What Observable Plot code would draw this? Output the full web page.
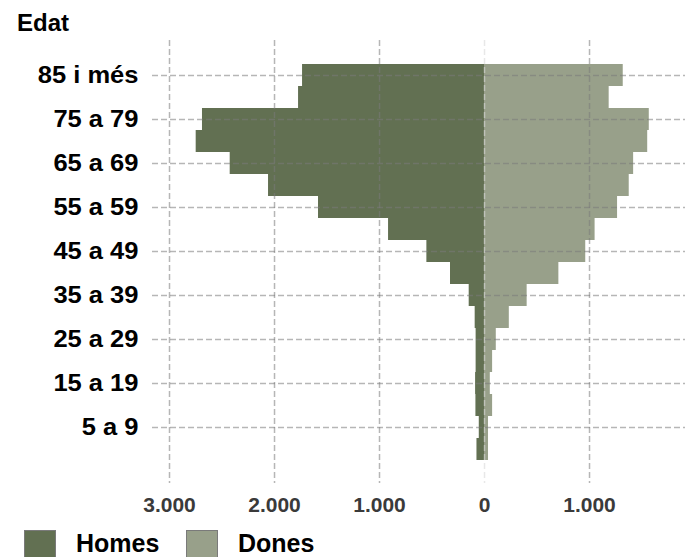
<!DOCTYPE html>
<html>
<head>
<meta charset="utf-8">
<script src="https://cdn.jsdelivr.net/npm/d3@7"></script>
<script src="https://cdn.jsdelivr.net/npm/@observablehq/plot@0.6"></script>
<style>
  body { margin: 0; background: #fff; font-family: "Liberation Sans", Arial, sans-serif; }
  #wrap { position: relative; width: 685px; height: 557px; overflow: hidden; }
  #title { position: absolute; left: 17px; top: 11px; font-size: 24px; line-height: 24px; font-weight: bold; color: #000; }
  #chart { position: absolute; left: 0; top: 40px; }
  .sw { position: absolute; top: 530px; width: 32px; height: 34px; box-sizing: border-box; border: 1.5px solid #7a7a7a; }
  .lt { position: absolute; top: 531px; font-size: 25px; line-height: 25px; font-weight: bold; color: #000; }
</style>
</head>
<body>
<div id="wrap">
  <div id="title">Edat</div>
  <div id="chart"></div>
  <div class="sw" id="sw1" style="left:24px;"></div>
  <div class="lt" id="lt1" style="left:76px;"></div>
  <div class="sw" id="sw2" style="left:186px;"></div>
  <div class="lt" id="lt2" style="left:238px;"></div>
</div>
<script>
// Age groups (bottom to top)
const ages = ["0 a 4","5 a 9","10 a 14","15 a 19","20 a 24","25 a 29","30 a 34","35 a 39","40 a 44",
  "45 a 49","50 a 54","55 a 59","60 a 64","65 a 69","70 a 74","75 a 79","80 a 84","85 i més"];
// Men (Homes) and women (Dones) counts per age group
const homes = [72, 50, 82, 85, 80, 80, 89, 146, 324, 549, 914, 1581, 2057, 2422, 2746, 2686, 1771, 1733];
const dones = [38, 38, 77, 55, 77, 112, 236, 406, 708, 964, 1053, 1267, 1378, 1420, 1554, 1569, 1187, 1321];
// Tick labels
const yTicks = ["85 i més","75 a 79","65 a 69","55 a 59","45 a 49","35 a 39","25 a 29","15 a 19","5 a 9"];
const xTicks = [-3000, -2000, -1000, 0, 1000];
const seriesNames = ["Homes", "Dones"];
const seriesColors = ["#627052", "#98a08a"];

const rows = ages.map((a, i) => ({age: a, homes: homes[i], dones: dones[i]}));
const fmt = d3.formatLocale({decimal: ",", thousands: ".", grouping: [3], currency: ["", "€"]}).format(",");

const chart = Plot.plot({
  width: 685,
  height: 483,
  marginLeft: 152,
  marginRight: 0,
  marginTop: 0,
  marginBottom: 40,
  style: {fontFamily: "'Liberation Sans', Arial, sans-serif", fontWeight: "bold", background: "#fff"},
  x: {domain: [-3162, 1914], label: null},
  y: {domain: ages.slice().reverse(), paddingInner: 0, paddingOuter: 1.06, label: null},
  marks: [
    Plot.barX(rows, {x: d => -d.homes, y: "age", fill: seriesColors[0]}),
    Plot.barX(rows, {x: "dones", y: "age", fill: seriesColors[1]}),
    Plot.gridX([-3000, -2000, -1000, 1000], {stroke: "#7a7a7a", strokeOpacity: 0.55, strokeWidth: 1.5, strokeDasharray: "6,3"}),
    Plot.gridX([0], {stroke: "#d8d8d8", strokeOpacity: 0.6, strokeWidth: 1.5, strokeDasharray: "6,3"}),
    Plot.gridY(yTicks, {stroke: "#7a7a7a", strokeOpacity: 0.55, strokeWidth: 1.5, strokeDasharray: "6,3"}),
    Plot.axisY(yTicks, {tickSize: 0, tickPadding: 14, fontSize: 23, fill: "#000", label: null}),
    Plot.axisX(xTicks, {tickSize: 0, tickPadding: 14, fontSize: 21, fill: "#3a3a3a", tickFormat: d => fmt(Math.abs(d)), label: null})
  ]
});
document.getElementById("chart").appendChild(chart);
// Slightly widen the age labels to match the reference's letterforms
d3.select(chart).selectAll("g[aria-label='y-axis tick label'] text").each(function() {
  const t = this.getAttribute("transform") || "";
  this.setAttribute("transform", t + " scale(1.11,1)");
});

document.getElementById("sw1").style.background = seriesColors[0];
document.getElementById("sw2").style.background = seriesColors[1];
document.getElementById("lt1").textContent = seriesNames[0];
document.getElementById("lt2").textContent = seriesNames[1];
</script>
</body>
</html>
